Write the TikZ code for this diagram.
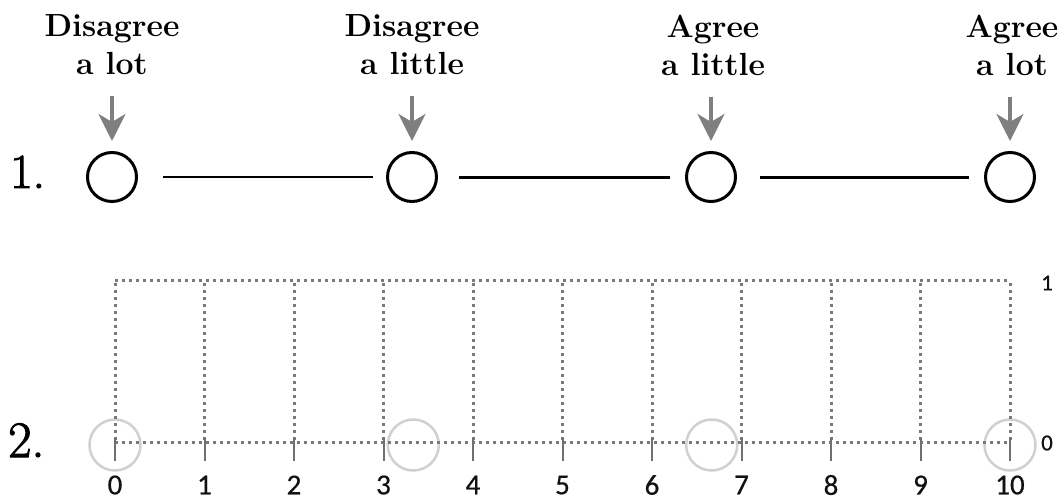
\documentclass[tikz,border=0pt]{standalone}
\usepackage{fontspec}
\newfontfamily\numfont{Carlito}[FakeBold=0.6]
\newfontfamily\bignumfont{Latin Modern Roman}[FakeBold=2]
\usetikzlibrary{arrows.meta}
\definecolor{arrowgray}{HTML}{7F7F7F}
\definecolor{dotgray}{HTML}{7A7A7A}
\definecolor{tickgray}{HTML}{707070}
\definecolor{ringgray}{HTML}{D0D0D0}
\definecolor{numblack}{HTML}{111111}
\begin{document}
\begin{tikzpicture}[x=1pt,y=-1pt,
  lbl/.style={font=\fontsize{32}{38}\selectfont\bfseries\addfontfeatures{FakeStretch=1.06}, align=center, anchor=north, inner sep=0pt, outer sep=0pt},
  bigring/.style={circle, draw=black, line width=3pt, minimum size=49pt, inner sep=0pt},
  faintring/.style={circle, draw=ringgray, line width=2.5pt, minimum size=51pt, inner sep=0pt},
  downarrow/.style={draw=arrowgray, line width=3.6pt, -{Stealth[length=27pt,width=27pt,inset=8pt]}},
  thinlink/.style={draw=black, line width=2pt},
  thicklink/.style={draw=black, line width=3pt},
  dotline/.style={draw=dotgray, line width=3pt, dash pattern=on 3pt off 4pt},
  tickline/.style={draw=tickgray, line width=2pt},
  numlbl/.style={font=\numfont\fontsize{29}{32}\selectfont, text=numblack, inner sep=0pt},
  sidelbl/.style={font=\numfont\fontsize{23}{27}\selectfont, text=numblack, inner sep=0pt},
  itemlbl/.style={inner sep=0pt, anchor=base west}
]
\useasboundingbox (0,0) rectangle (1062,500);

% ---------- Part 1 ----------
\node[itemlbl, font=\bignumfont\fontsize{49}{55}\selectfont] (n1) at (10,188) {1.};

\node[bigring] (c1) at (112,177) {};
\node[bigring] (c2) at (412,177) {};
\node[bigring] (c3) at (711,177) {};
\node[bigring] (c4) at (1010,177) {};

\node[lbl] (l1) at (112,15) {Disagree\\a lot};
\node[lbl] (l2) at (412,15) {Disagree\\a little};
\node[lbl] (l3) at (713,15) {Agree\\a little};
\node[lbl] (l4) at (1012,15) {Agree\\a lot};

\draw[downarrow, shorten <=21pt, shorten >=10pt] (l1.south -| c1) -- (c1);
\draw[downarrow, shorten <=21pt, shorten >=10pt] (l2.south -| c2) -- (c2);
\draw[downarrow, shorten <=21pt, shorten >=10pt] (l3.south -| c3) -- (c3);
\draw[downarrow, shorten <=21pt, shorten >=10pt] (l4.south -| c4) -- (c4);

\draw[thinlink, shorten <=25pt, shorten >=13pt] (c1) -- (c2);
\draw[thicklink, shorten <=21pt, shorten >=15pt] (c2) -- (c3);
\draw[thicklink, shorten <=23pt, shorten >=15pt] (c3) -- (c4);

% ---------- Part 2 ----------
\node[itemlbl, font=\bignumfont\fontsize{51}{57}\selectfont] (n2) at (8,457) {2.};

\node[faintring] (g1) at (115,445) {};
\node[faintring] (g2) at (413.3,445) {};
\node[faintring] (g3) at (711.7,445) {};
\node[faintring] (g4) at (1010,445) {};

\draw[dotline] (115,280) -- (1010,280);
\draw[dotline] (115,442) -- (1010,442);
\foreach \i in {0,...,10} {
  \pgfmathsetmacro\xx{115+89.5*\i}
  \draw[dotline] (\xx,283) -- (\xx,442);
  \draw[tickline] (\xx,438) -- (\xx,461);
  \node[numlbl] (t\i) at (\xx,485) {\i};
}
\node[sidelbl] (s1) at (1047,283) {1};
\node[sidelbl] (s0) at (1047,443) {0};
\end{tikzpicture}
\end{document}
